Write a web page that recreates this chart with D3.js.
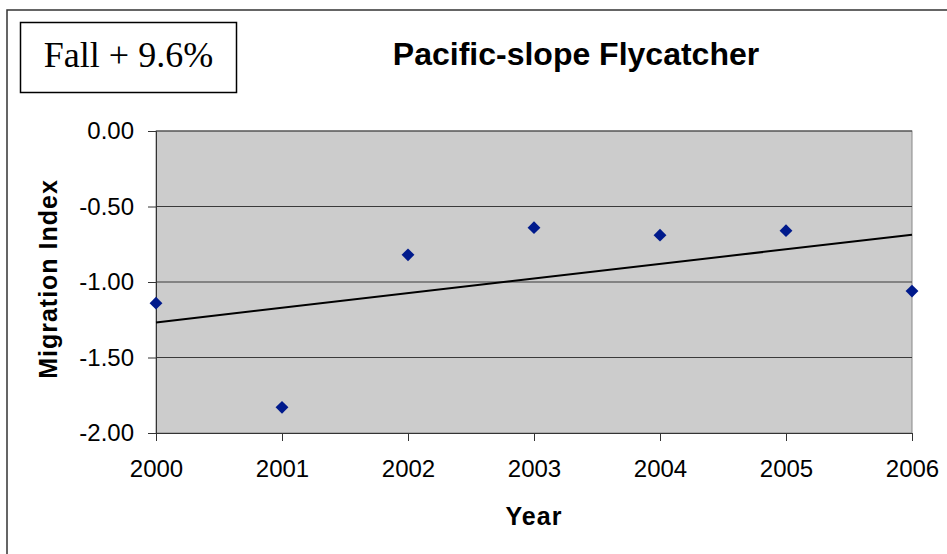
<!DOCTYPE html>
<html><head><meta charset="utf-8">
<script src="https://cdn.jsdelivr.net/npm/d3@7"></script>
<style>body{margin:0;background:#fff}svg{display:block}</style>
</head><body>
<svg id="c" width="947" height="554"></svg>
<script>
const years = [2000, 2001, 2002, 2003, 2004, 2005, 2006];
const values = [-1.14, -1.83, -0.82, -0.64, -0.69, -0.66, -1.06];
const yTicks = [0, -0.5, -1, -1.5, -2];
const title = "Pacific-slope Flycatcher";
const boxLabel = "Fall + 9.6%";
const xTitle = "Year";
const yTitle = "Migration Index";

const svg = d3.select("#c");
const L = 156, R = 912, T = 131, B = 433;
const x = d3.scaleLinear().domain([2000, 2006]).range([L, R]);
const y = d3.scaleLinear().domain([-2, 0]).range([B, T]);
const font = "'Liberation Sans', Arial, sans-serif";
const fmt2 = d => d3.format(".2f")(d).replace("\u2212", "-");

// outer border
svg.append("rect").attr("x", 7).attr("y", 10).attr("width", 960).attr("height", 560)
  .attr("fill", "none").attr("stroke", "#333").attr("stroke-width", 1.5);

// plot area
svg.append("rect").attr("x", L).attr("y", T).attr("width", R - L).attr("height", B - T)
  .attr("fill", "#cccccc").attr("stroke", "#888").attr("stroke-width", 1);

// gridlines
svg.append("g").selectAll("line").data(yTicks.filter(d => d !== -2)).join("line")
  .attr("x1", L).attr("x2", R).attr("y1", d => y(d)).attr("y2", d => y(d))
  .attr("stroke", "#3a3a3a").attr("stroke-width", 1);

// y axis
const yAxis = d3.axisLeft(y).tickValues(yTicks).tickSize(8).tickPadding(14)
  .tickFormat(fmt2);
const gy = svg.append("g").attr("transform", `translate(${L},0)`).call(yAxis);
gy.select(".domain").attr("stroke", "#333");
gy.selectAll(".tick line").attr("stroke", "#333");
gy.selectAll("text").attr("font-family", font).attr("font-size", 24).attr("fill", "#000");

// x axis
const xAxis = d3.axisBottom(x).tickValues(years).tickSize(8).tickPadding(19)
  .tickFormat(d3.format("d"));
const gx = svg.append("g").attr("transform", `translate(0,${B})`).call(xAxis);
gx.select(".domain").attr("stroke", "#333");
gx.selectAll(".tick line").attr("stroke", "#333");
gx.selectAll("text").attr("font-family", font).attr("font-size", 24).attr("fill", "#000");

// trend line (least squares)
const mx = d3.mean(years), my = d3.mean(values);
const slope = d3.sum(years.map((v, i) => (v - mx) * (values[i] - my))) /
              d3.sum(years.map(v => (v - mx) ** 2));
const icpt = my - slope * mx;
const ext = d3.extent(years);
svg.append("path")
  .datum(ext.map(v => [v, icpt + slope * v]))
  .attr("d", d3.line().x(d => x(d[0])).y(d => y(d[1])))
  .attr("stroke", "#000").attr("stroke-width", 2).attr("fill", "none");

// points
const sym = d3.symbol().type(d3.symbolDiamond2).size(105);
svg.append("g").selectAll("path").data(years.map((v, i) => [v, values[i]])).join("path")
  .attr("d", sym)
  .attr("transform", d => `translate(${x(d[0])},${y(d[1])})`)
  .attr("fill", "#001a8c");

// title
svg.append("text").attr("x", 576).attr("y", 65).attr("text-anchor", "middle")
  .attr("font-family", font).attr("font-weight", "bold").attr("font-size", 32).text(title);

// box label
svg.append("rect").attr("x", 20.5).attr("y", 22.5).attr("width", 216).attr("height", 70)
  .attr("fill", "#fff").attr("stroke", "#000").attr("stroke-width", 1.5);
svg.append("text").attr("x", 128.5).attr("y", 67).attr("text-anchor", "middle")
  .attr("font-family", "'Liberation Serif', 'Times New Roman', serif").attr("font-size", 36)
  .text(boxLabel);

// axis titles
svg.append("text").attr("x", 534).attr("y", 525).attr("text-anchor", "middle")
  .attr("font-family", font).attr("font-weight", "bold").attr("font-size", 25)
  .attr("letter-spacing", 1).text(xTitle);
svg.append("text").attr("transform", "translate(57,279) rotate(-90)").attr("text-anchor", "middle")
  .attr("font-family", font).attr("font-weight", "bold").attr("font-size", 25)
  .attr("letter-spacing", 1).text(yTitle);
</script>
</body></html>
